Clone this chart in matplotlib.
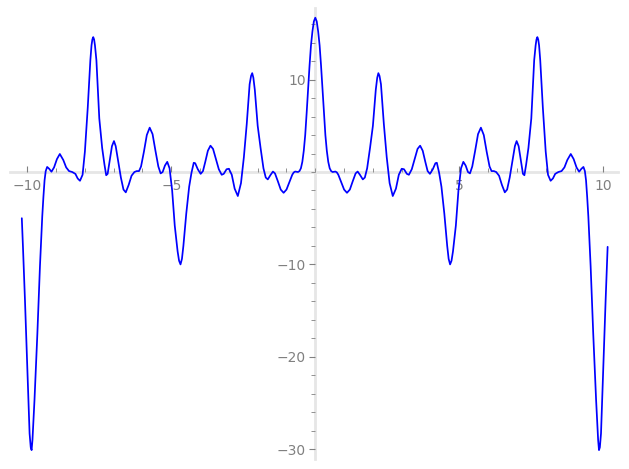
import matplotlib
matplotlib.use("Agg")
import matplotlib.pyplot as plt
from matplotlib.ticker import MultipleLocator

# ==========================================================
# DATA
# ==========================================================
x_vals = [
    -10.19, -10.15, -10.08, -10.00, -9.92, -9.88, -9.85, -9.82, -9.75, -9.65,
    -9.56, -9.48, -9.44, -9.40, -9.36, -9.31, -9.24, -9.16, -9.07, -8.97,
    -8.87, -8.75, -8.65, -8.55, -8.44, -8.33, -8.25, -8.17, -8.08, -8.00,
    -7.90, -7.81, -7.77, -7.74, -7.71, -7.68, -7.65, -7.60, -7.50, -7.40,
    -7.32, -7.26, -7.21, -7.14, -7.06, -6.99, -6.93, -6.85, -6.75, -6.66,
    -6.58, -6.48, -6.38, -6.28, -6.20, -6.12, -6.05, -5.95, -5.85, -5.75,
    -5.65, -5.55, -5.45, -5.37, -5.30, -5.22, -5.14, -5.06, -4.97, -4.88,
    -4.78, -4.73, -4.68, -4.63, -4.58, -4.48, -4.38, -4.30, -4.22, -4.17,
    -4.08, -3.98, -3.90, -3.82, -3.73, -3.64, -3.55, -3.45, -3.35, -3.25,
    -3.18, -3.08, -3.00, -2.90, -2.80, -2.69, -2.58, -2.48, -2.38, -2.28,
    -2.23, -2.19, -2.15, -2.10, -2.00, -1.90, -1.80, -1.72, -1.65, -1.55,
    -1.47, -1.40, -1.30, -1.20, -1.10, -1.00, -0.90, -0.80, -0.75, -0.70,
    -0.60, -0.55, -0.50, -0.45, -0.40, -0.35, -0.30, -0.25, -0.20, -0.15,
    -0.10, -0.05,
    0.00,
    0.05, 0.10, 0.15, 0.20, 0.25, 0.30, 0.35, 0.40, 0.45, 0.50,
    0.55, 0.60, 0.70, 0.75, 0.80, 0.90, 1.00, 1.10, 1.20, 1.30,
    1.40, 1.47, 1.55, 1.65, 1.72, 1.80, 1.90, 2.00, 2.10, 2.15,
    2.19, 2.23, 2.28, 2.38, 2.48, 2.58, 2.69, 2.80, 2.90, 3.00,
    3.08, 3.18, 3.25, 3.35, 3.45, 3.55, 3.64, 3.73, 3.82, 3.90,
    3.98, 4.08, 4.17, 4.22, 4.30, 4.38, 4.48, 4.58, 4.63, 4.68,
    4.73, 4.78, 4.88, 4.97, 5.06, 5.14, 5.22, 5.30, 5.37, 5.45,
    5.55, 5.65, 5.75, 5.85, 5.95, 6.05, 6.12, 6.20, 6.28, 6.38,
    6.48, 6.58, 6.66, 6.75, 6.85, 6.93, 6.99, 7.06, 7.14, 7.21,
    7.26, 7.32, 7.40, 7.50, 7.60, 7.65, 7.68, 7.71, 7.74, 7.77,
    7.81, 7.90, 8.00, 8.08, 8.17, 8.25, 8.33, 8.44, 8.55, 8.65,
    8.75, 8.87, 8.97, 9.07, 9.16, 9.24, 9.31, 9.36, 9.40, 9.44,
    9.48, 9.56, 9.65, 9.75, 9.82, 9.85, 9.88, 9.92, 10.00, 10.08,
    10.15,
]

y_vals = [
    -5.0, -8.1, -13.9, -21.1, -28.3, -29.8, -30.1, -29.0, -24.7, -17.5,
    -10.2, -4.8, -2.7, -0.9, 0.1, 0.55, 0.35, 0.03, 0.5, 1.4,
    1.95, 1.3, 0.5, 0.1, 0.0, -0.2, -0.7, -0.95, -0.3, 2.2,
    7.0, 12.1, 13.7, 14.35, 14.6, 14.35, 13.7, 12.1, 5.8, 2.6,
    0.8, -0.35, -0.2, 1.2, 2.8, 3.35, 2.8, 1.3, -0.6, -1.9,
    -2.2, -1.4, -0.4, 0.0, 0.1, 0.1, 0.6, 2.2, 4.0, 4.8,
    4.1, 2.3, 0.6, -0.15, 0.0, 0.7, 1.1, 0.4, -2.0, -5.8,
    -8.6, -9.6, -10.0, -9.4, -8.0, -4.5, -1.6, -0.1, 1.0, 0.95,
    0.3, -0.2, 0.1, 1.1, 2.3, 2.85, 2.5, 1.4, 0.3, -0.3,
    -0.2, 0.3, 0.35, -0.3, -1.8, -2.6, -1.2, 1.6, 5.2, 9.5,
    10.4, 10.7, 10.2, 8.9, 5.0, 2.6, 0.4, -0.6, -0.8, -0.3,
    0.05, -0.15, -1.0, -1.9, -2.25, -1.9, -1.1, -0.3, -0.05, 0.05,
    0.0, 0.1, 0.4, 1.1, 2.3, 4.0, 6.4, 9.0, 11.5, 13.7,
    15.2, 16.3,
    16.7,
    16.3, 15.2, 13.7, 11.5, 9.0, 6.4, 4.0, 2.3, 1.1, 0.4,
    0.1, 0.0, 0.05, -0.05, -0.3, -1.1, -1.9, -2.25, -1.9, -1.0,
    -0.15, 0.05, -0.3, -0.8, -0.6, 0.4, 2.6, 5.0, 8.9, 10.2,
    10.7, 10.4, 9.5, 5.2, 1.6, -1.2, -2.6, -1.8, -0.3, 0.35,
    0.3, -0.2, -0.3, 0.3, 1.4, 2.5, 2.85, 2.3, 1.1, 0.1,
    -0.2, 0.3, 0.95, 1.0, -0.1, -1.6, -4.5, -8.0, -9.4, -10.0,
    -9.6, -8.6, -5.8, -2.0, 0.4, 1.1, 0.7, 0.0, -0.15, 0.6,
    2.3, 4.1, 4.8, 4.0, 2.2, 0.6, 0.1, 0.1, 0.0, -0.4,
    -1.4, -2.2, -1.9, -0.6, 1.3, 2.8, 3.35, 2.8, 1.2, -0.2,
    -0.35, 0.8, 2.6, 5.8, 12.1, 13.7, 14.35, 14.6, 14.35, 13.7,
    12.1, 7.0, 2.2, -0.3, -0.95, -0.7, -0.2, 0.0, 0.1, 0.5,
    1.3, 1.95, 1.4, 0.5, 0.03, 0.35, 0.55, 0.1, -0.9, -2.7,
    -4.8, -10.2, -17.5, -24.7, -29.0, -30.1, -29.8, -28.3, -21.1, -13.9,
    -8.1,
]

x_major = [-10, -5, 5, 10]
y_major = [-30, -20, -10, 10]

AXIS_GREY = "#e6e6e6"
LABEL_GREY = "#808080"

fig = plt.figure(figsize=(6.29, 4.69), dpi=100)
ax = fig.add_axes([10 / 629, 10 / 469, 608 / 629, 451 / 469])

ax.plot(x_vals, y_vals, color="blue", linewidth=1.25,
        solid_joinstyle="round", solid_capstyle="round")

ax.set_xlim(-10.60, 10.51)
ax.set_ylim(-31.06, 17.75)

# axes crossing at the origin, no frame
for side in ["top", "right"]:
    ax.spines[side].set_visible(False)
for side in ["left", "bottom"]:
    ax.spines[side].set_position(("data", 0))
    ax.spines[side].set_color(AXIS_GREY)
    ax.spines[side].set_linewidth(2.0)
    ax.spines[side].set_zorder(0)

ax.set_xticks(x_major)
ax.set_yticks(y_major)
ax.xaxis.set_minor_locator(MultipleLocator(1))
ax.yaxis.set_minor_locator(MultipleLocator(2))

ax.tick_params(axis="x", which="both", direction="in", color=LABEL_GREY,
               labelcolor=LABEL_GREY, labelsize=10, pad=5)
ax.tick_params(axis="y", which="both", direction="out", color=LABEL_GREY,
               labelcolor=LABEL_GREY, labelsize=10, pad=3)
ax.tick_params(which="major", length=4, width=0.8)
ax.tick_params(which="minor", length=3, width=0.6)

plt.savefig("out.png", dpi=100, facecolor="white")
